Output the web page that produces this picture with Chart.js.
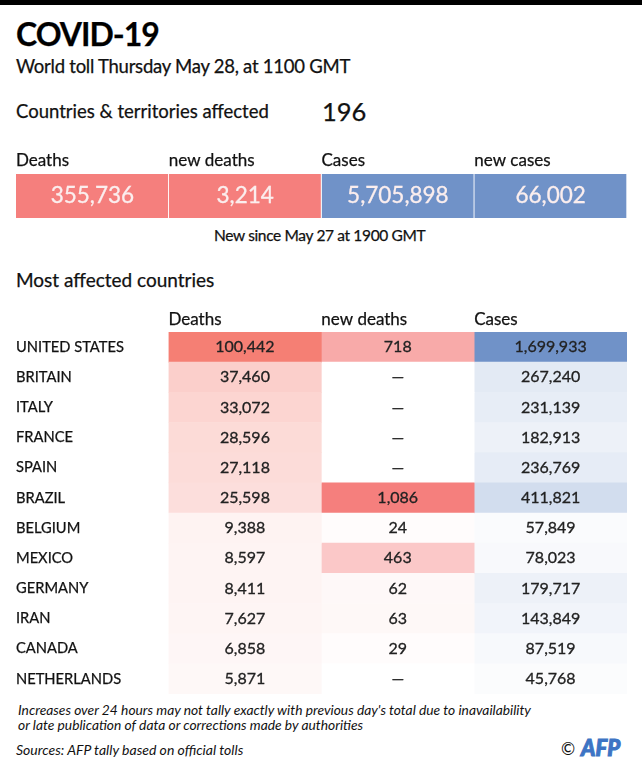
<!DOCTYPE html>
<html><head><meta charset="utf-8">
<script src="https://cdn.jsdelivr.net/npm/chart.js@4"></script>
<style>
html,body{margin:0;padding:0;background:#fff;width:642px;height:767px;overflow:hidden}
body{position:relative;font-family:Lato,"Noto Sans",sans-serif;color:#111}
.t{position:absolute;white-space:nowrap;line-height:30px;height:30px;-webkit-text-stroke:.25px #111}
canvas{position:absolute}
#bar{position:absolute;left:0;top:0;width:642px;height:5px;background:#000}
#w1{position:absolute;left:16px;top:146px;width:611px;height:72px}
#w2{position:absolute;left:16px;top:303px;width:611px;height:391px}
</style></head><body>
<div id="bar"></div>
<div class="t" style="left:16px;top:19px;font-size:32px;font-weight:700;color:#000;letter-spacing:-1px">COVID-19</div>
<div class="t" style="left:16px;top:51px;font-size:18.5px;letter-spacing:-.25px">World toll Thursday May 28, at 1100 GMT</div>
<div class="t" style="left:16px;top:96px;font-size:18.5px">Countries &amp; territories affected</div>
<div class="t" style="left:322px;top:96px;font-size:25.5px">196</div>
<div class="t" style="left:214px;top:220px;font-size:15.5px;letter-spacing:-.35px">New since May 27 at 1900 GMT</div>
<div class="t" style="left:16px;top:265px;font-size:19px">Most affected countries</div>
<div class="t" style="left:18px;top:695px;font-size:13.8px;font-style:italic;-webkit-text-stroke:0">Increases over 24 hours may not tally exactly with previous day's total due to inavailability</div>
<div class="t" style="left:18px;top:710px;font-size:13.8px;font-style:italic;-webkit-text-stroke:0">or late publication of data or corrections made by authorities</div>
<div class="t" style="left:16px;top:735px;font-size:14px;font-style:italic;-webkit-text-stroke:0">Sources: AFP tally based on official tolls</div>
<div class="t" style="left:561px;top:734px;font-size:17px;-webkit-text-stroke:0">©</div>
<div class="t" style="left:581px;top:733px;font-size:22px;font-weight:900;font-style:italic;color:#3d74c4;-webkit-text-stroke:1px #3d74c4">AFP</div>
<div id="w1"><canvas id="c1" width="611" height="72"></canvas></div>
<div id="w2"><canvas id="c2" width="611" height="391"></canvas></div>
<script>
const summaryHeaders = ["Deaths", "new deaths", "Cases", "new cases"];
const summaryValues = [355736, 3214, 5705898, 66002];
const tableHeaders = ["Deaths", "new deaths", "Cases"];
const countries = ["UNITED STATES","BRITAIN","ITALY","FRANCE","SPAIN","BRAZIL","BELGIUM","MEXICO","GERMANY","IRAN","CANADA","NETHERLANDS"];
const deaths = [100442,37460,33072,28596,27118,25598,9388,8597,8411,7627,6858,5871];
const newDeaths = [718,null,null,null,null,1086,24,463,62,63,29,null];
const cases = [1699933,267240,231139,182913,236769,411821,57849,78023,179717,143849,87519,45768];

const RED = [245,127,125], PEACH = [245,127,116], BLUE = [112,146,200];
const FONT = 'Lato, "Noto Sans", sans-serif';
const tint = (c, f) => `rgb(${c.map(v => Math.round(255 - (255 - v) * f)).join(",")})`;
const fmt = v => v === null ? "\u2014" : v.toLocaleString("en-US");

const valueLabels = {
  id: "valueLabels",
  afterDatasetsDraw(chart, args, opts) {
    const ctx = chart.ctx;
    ctx.save();
    ctx.font = `${opts.size}px ${FONT}`;
    ctx.fillStyle = opts.color;
    ctx.strokeStyle = opts.color;
    ctx.lineWidth = .3;
    ctx.textAlign = "center";
    ctx.textBaseline = "middle";
    chart.data.datasets.forEach((ds, d) => {
      chart.getDatasetMeta(d).data.forEach((el, i) => {
        const p = el.getCenterPoint();
        ctx.fillText(fmt(ds.values[i]), p.x, p.y);
        ctx.strokeText(fmt(ds.values[i]), p.x, p.y);
      });
    });
    ctx.restore();
  }
};

function build(id, rows, headers, columns, axisW, headH, size, color, showY, sep) {
  new Chart(document.getElementById(id), {
    type: "bar",
    data: {
      labels: rows,
      datasets: columns.map((col, k) => ({
        label: headers[k],
        values: col.values,
        data: rows.map(() => [k, k + 1]),
        backgroundColor: col.colors,
        borderColor: "#fff",
        borderWidth: sep ? { right: 1, left: 0, top: 0, bottom: 0 } : 0,
        borderSkipped: false,
        grouped: false,
        barPercentage: 1,
        categoryPercentage: 1
      }))
    },
    options: {
      indexAxis: "y",
      responsive: false,
      animation: false,
      layout: { padding: 0 },
      plugins: {
        legend: { display: false },
        tooltip: { enabled: false },
        valueLabels: { size, color }
      },
      scales: {
        x: {
          position: "top", min: 0, max: headers.length,
          grid: { display: false, drawTicks: false }, border: { display: false },
          afterFit(s) { s.height = headH; s.paddingLeft = 0; s.paddingRight = 0; },
          ticks: {
            stepSize: 1, autoSkip: false, maxRotation: 0, minRotation: 0,
            align: "start", padding: headH === 28 ? 3 : 2, color: "#111",
            textStrokeColor: "#111", textStrokeWidth: .25,
            font: { family: FONT, size: 17 },
            callback: v => headers[v] || ""
          }
        },
        y: {
          display: showY,
          grid: { display: false, drawTicks: false }, border: { display: false },
          afterFit(s) { s.width = axisW; s.paddingTop = 0; s.paddingBottom = 0; },
          ticks: {
            crossAlign: "far", padding: 0, color: "#111", autoSkip: false,
            textStrokeColor: "#111", textStrokeWidth: .25,
            font: { family: FONT, size: 14.7 }
          }
        }
      }
    },
    plugins: [valueLabels]
  });
}

build("c1", ["World"], summaryHeaders,
  summaryValues.map((v, k) => ({ values: [v], colors: [k < 2 ? tint(RED, 1) : tint(BLUE, 1)] })),
  0, 28, 22.5, "#fbeeee", false, true);

const column = (vals, c, gain, power) => {
  const max = Math.max(...vals.filter(v => v !== null));
  return { values: vals, colors: vals.map(v => v === null ? "#fff" : tint(c, Math.min(1, gain * Math.pow(v / max, power)))) };
};
build("c2", countries, tableHeaders,
  [column(deaths, PEACH, 1, 1), column(newDeaths, RED, 1, 1), column(cases, BLUE, 1.5, 1.1)],
  152.5, 29, 16, "#222", true, false);
</script>
</body></html>
